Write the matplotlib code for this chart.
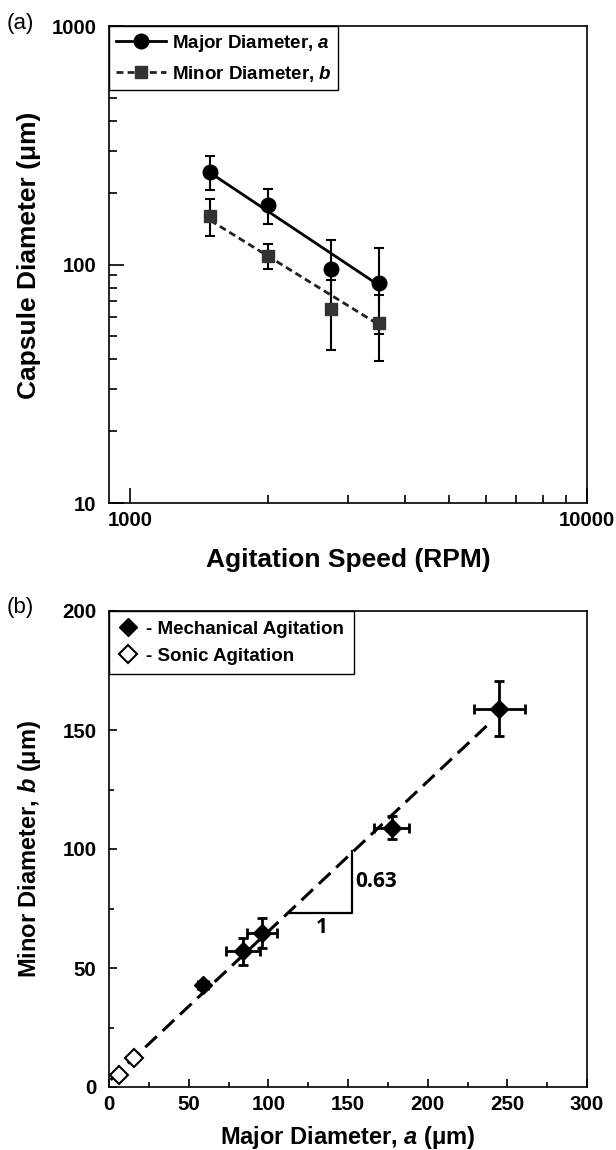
import numpy as np
import matplotlib
matplotlib.use('Agg')
import matplotlib.pyplot as plt
from matplotlib.lines import Line2D
from matplotlib.ticker import FuncFormatter, NullFormatter, MultipleLocator

plt.rcParams['font.family'] = ['Liberation Sans', 'DejaVu Sans']
plt.rcParams['font.weight'] = 'bold'
plt.rcParams['axes.labelweight'] = 'bold'
plt.rcParams['mathtext.fontset'] = 'custom'
plt.rcParams['mathtext.it'] = 'Liberation Sans:bold:italic'
plt.rcParams['mathtext.rm'] = 'Liberation Sans:bold'
plt.rcParams['mathtext.bf'] = 'Liberation Sans:bold'

# (a) diametro de capsula vs velocidad de agitacion
rpm = [1500, 2000, 2750, 3500]
major = [245, 178, 96, 84]
major_err = [39, 30, 31, 33]
minor = [160, 109, 65, 57]
minor_err = [28, 13, 21, 17.5]
fit_rpm = [1500, 3500]
fit_major = [242, 82]
fit_minor = [153, 56]

# (b) diametro menor vs diametro mayor
mech_a = [245, 177.5, 96, 84, 59]
mech_b = [159, 109, 64.7, 57, 43]
mech_a_err = [16, 11, 9.6, 10.6, 3]
mech_b_err = [11.5, 4.7, 6.2, 5.7, 1]
sonic_a = [6, 15.5]
sonic_b = [5, 12.3]
fit_a = [1, 240]
fit_b = [3.0, 153.6]
tri_a = [113, 152.5, 152.5]
tri_b = [73, 73, 99]

W, H = 616, 1150
fig = plt.figure(figsize=(W / 100, H / 100), dpi=100)
ax1 = fig.add_axes([109 / W, 1 - 503 / H, 478 / W, 477 / H])
ax2 = fig.add_axes([109 / W, 1 - 1087 / H, 478 / W, 476 / H])

# ---- panel (a)
dash_a = (0, (2.5, 1.5))
ax1.plot(fit_rpm, fit_major, color='black', lw=2, zorder=2)
ax1.plot(fit_rpm, fit_minor, color='#222222', lw=2, ls=dash_a, zorder=2)
ax1.errorbar(rpm, major, yerr=major_err, fmt='o', ms=10.5, color='black',
             elinewidth=1.5, capsize=3.5, capthick=1.5, zorder=3)
ax1.errorbar(rpm, minor, yerr=minor_err, fmt='s', ms=9, mfc='#333333', mec='#333333',
             ecolor='black', elinewidth=1.5, capsize=3.5, capthick=1.5, zorder=3)

ax1.set_xscale('log')
ax1.set_yscale('log')
ax1.set_xlim(900, 10000)
ax1.set_ylim(10, 1000)
ax1.set_xticks([1000, 10000])
ax1.set_xticks([2000, 3000, 4000, 5000, 6000, 7000, 8000, 9000], minor=True)
ax1.xaxis.set_major_formatter(FuncFormatter(lambda v, p: f'{v:g}'))
ax1.xaxis.set_minor_formatter(NullFormatter())
ax1.yaxis.set_major_formatter(FuncFormatter(lambda v, p: f'{v:g}'))
ax1.yaxis.set_minor_formatter(NullFormatter())
ax1.tick_params(which='both', direction='in', top=False, right=False, width=1.2, labelsize=14.6)
ax1.tick_params(which='major', length=11)
ax1.tick_params(which='minor', length=6)
ax1.tick_params(axis='x', pad=5.5)
ax1.tick_params(axis='y', pad=9)

ax1.set_xlabel('Agitation Speed (RPM)', fontsize=19)
ax1.set_ylabel('Capsule Diameter (μm)', fontsize=19)
ax1.xaxis.set_label_coords(0.5, -0.1185)
ax1.xaxis.label.set_verticalalignment('center')
ax1.yaxis.set_label_coords(-0.168, 0.52)
ax1.yaxis.label.set_verticalalignment('center')

h1 = Line2D([], [], color='black', lw=2, marker='o', ms=10.5)
h2 = Line2D([], [], color='#222222', lw=2, ls=dash_a, marker='s', ms=9,
            mfc='#333333', mec='#333333')
leg1 = ax1.legend([h1, h2], ['Major Diameter, $a$', 'Minor Diameter, $b$'],
                  loc='upper left', bbox_to_anchor=(0, 1), borderaxespad=0,
                  fancybox=False, edgecolor='black', framealpha=1, fontsize=13.5,
                  handlelength=2.7, handletextpad=0.3, labelspacing=0.55,
                  borderpad=0.35, numpoints=1)
leg1.get_frame().set_linewidth(1.0)

# ---- panel (b)
ax2.plot(fit_a, fit_b, color='black', lw=2.2, ls=(0, (5.2, 2.6)), zorder=2)
ax2.errorbar(mech_a, mech_b, xerr=mech_a_err, yerr=mech_b_err, fmt='D', ms=9,
             color='black', elinewidth=2, capsize=3.5, capthick=2, zorder=3)
ax2.plot(sonic_a, sonic_b, 'D', ms=9, mfc='white', mec='black', mew=1.5, zorder=3)
ax2.plot(tri_a, tri_b, color='black', lw=1.6)
ax2.text(154.6, 86.5, '0.63', ha='left', va='center', fontsize=15,
         family='Open Sans', weight='bold')
ax2.text(133.3, 67, '1', ha='center', va='center', fontsize=15,
         family='Open Sans', weight='bold')

ax2.set_xlim(0, 300)
ax2.set_ylim(0, 200)
ax2.xaxis.set_major_locator(MultipleLocator(50))
ax2.xaxis.set_minor_locator(MultipleLocator(25))
ax2.yaxis.set_major_locator(MultipleLocator(50))
ax2.yaxis.set_minor_locator(MultipleLocator(25))
ax2.tick_params(which='both', direction='in', top=False, right=False, width=1.2, labelsize=14.8)
ax2.tick_params(which='major', length=6)
ax2.tick_params(which='minor', length=3.5)
ax2.tick_params(axis='x', pad=5.5)
ax2.tick_params(axis='y', pad=9)

ax2.set_xlabel('Major Diameter, $a$ (μm)', fontsize=17)
ax2.set_ylabel('Minor Diameter, $b$ (μm)', fontsize=17)
ax2.xaxis.set_label_coords(0.5, -0.107)
ax2.xaxis.label.set_verticalalignment('center')
ax2.yaxis.set_label_coords(-0.166, 0.5)
ax2.yaxis.label.set_verticalalignment('center')

m1 = Line2D([], [], ls='none', marker='D', ms=9, color='black')
m2 = Line2D([], [], ls='none', marker='D', ms=9, mfc='white', mec='black', mew=1.5)
leg2 = ax2.legend([m1, m2], ['- Mechanical Agitation', '- Sonic Agitation'],
                  loc='upper left', bbox_to_anchor=(0, 1), borderaxespad=0,
                  fancybox=False, edgecolor='black', framealpha=1, fontsize=13.5,
                  handlelength=1.0, handletextpad=0.5, labelspacing=0.55,
                  borderpad=0.5, numpoints=1)
leg2.get_frame().set_linewidth(1.0)

for ax in (ax1, ax2):
    for s in ax.spines.values():
        s.set_linewidth(1.2)

fig.text(20 / W, 1 - 24 / H, '(a)', ha='center', va='center', fontsize=16, weight='normal')
fig.text(20 / W, 1 - 607 / H, '(b)', ha='center', va='center', fontsize=16, weight='normal')

fig.savefig('out.png', dpi=100)
